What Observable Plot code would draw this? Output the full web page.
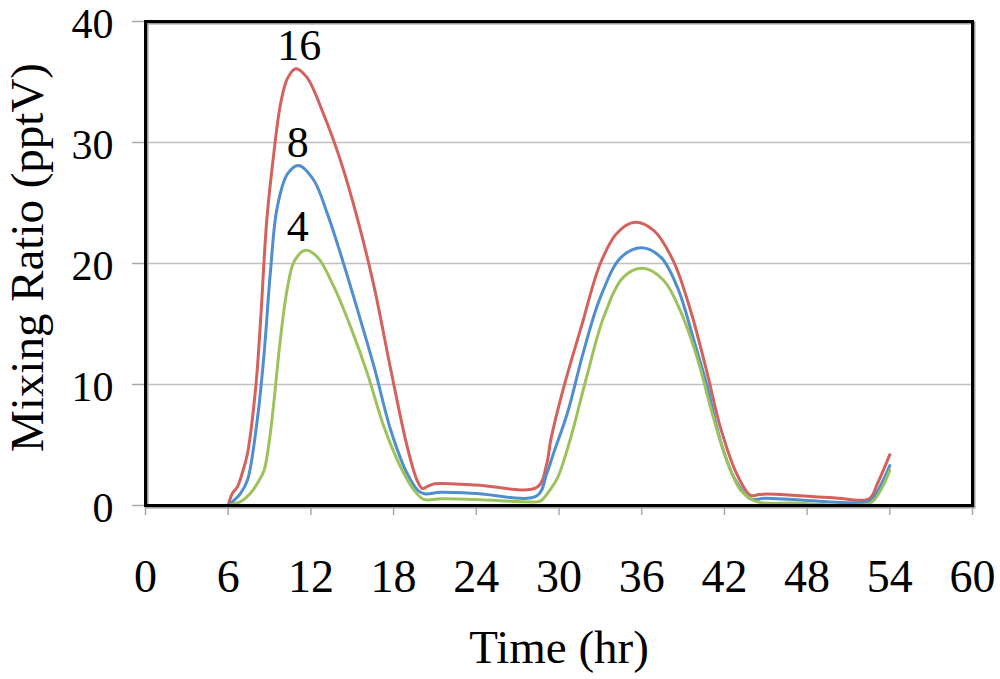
<!DOCTYPE html>
<html>
<head>
<meta charset="utf-8">
<script src="https://cdn.jsdelivr.net/npm/d3@7"></script>
<script src="https://cdn.jsdelivr.net/npm/@observablehq/plot@0.6"></script>
<style>
  html, body { margin: 0; padding: 0; background: #fff; }
  #chart svg { display: block; }
</style>
</head>
<body>
<div id="chart"></div>
<script>
// Time (hr), mixing ratio (pptV)
const series16 = [
  [6.0, 0], [6.3, 1.0], [6.65, 1.5], [7.0, 2.6], [7.4, 4.3], [8.0, 9.8], [8.35, 15.3],
  [8.8, 23.6], [9.3, 29.0], [9.8, 33.2], [10.3, 35.3], [10.9, 36.1], [11.7, 35.4],
  [12.9, 32.4], [14.15, 28.5], [15.4, 23.6], [16.6, 18.0], [17.8, 11.2], [19.0, 4.8],
  [19.7, 2.1], [20.1, 1.4], [20.5, 1.6], [21.0, 1.8], [24.0, 1.7], [28.4, 1.5],
  [29.1, 3.4], [29.4, 5.4], [30.35, 9.8], [31.6, 14.7], [33.0, 20.0], [34.2, 22.5],
  [35.5, 23.4], [36.9, 22.7], [38.3, 20.2], [39.55, 16.1], [40.76, 10.9], [41.7, 6.5],
  [42.9, 2.6], [43.9, 0.83], [44.5, 0.9], [45.1, 0.95], [47.5, 0.8], [49.9, 0.65],
  [52.5, 0.55], [53.1, 1.8], [54.0, 4.2]
];
const series8 = [
  [6.0, 0], [6.4, 0.4], [6.9, 1.0], [7.4, 2.1], [8.1, 7.0], [8.6, 12.5], [9.07, 19.4],
  [9.55, 24.6], [10.3, 27.4], [11.1, 28.1], [12.2, 26.9], [13.2, 24.1], [14.15, 20.8],
  [15.4, 16.1], [16.6, 11.4], [17.8, 6.2], [19.0, 2.6], [19.8, 1.2], [20.3, 0.95],
  [21.4, 1.1], [24.0, 1.0], [28.4, 0.8], [29.1, 2.6], [29.6, 4.3], [30.6, 7.6],
  [31.8, 12.8], [33.0, 17.2], [34.5, 20.5], [36.0, 21.3], [37.4, 20.5], [38.6, 18.0],
  [39.8, 13.6], [40.76, 9.8], [41.7, 5.4], [42.7, 2.3], [43.9, 0.55], [45.0, 0.6],
  [47.5, 0.45], [52.4, 0.3], [52.8, 0.6], [53.4, 1.8], [54.0, 3.3]
];
const series4 = [
  [6.0, 0], [6.4, 0.1], [7.0, 0.4], [7.6, 1.0], [8.1, 1.8], [8.6, 2.9], [9.0, 5.5],
  [9.3, 8.4], [9.8, 13.9], [10.3, 18.0], [10.8, 20.2], [11.6, 21.1], [12.5, 20.5],
  [13.7, 18.0], [14.9, 14.7], [16.1, 10.9], [17.3, 6.5], [18.5, 3.2], [19.5, 1.24],
  [20.2, 0.5], [21.4, 0.55], [24.0, 0.5], [28.4, 0.3], [28.7, 0.4], [29.3, 1.2],
  [29.9, 2.3], [30.8, 5.4], [32.0, 10.6], [33.25, 15.6], [34.7, 18.9], [36.1, 19.6],
  [37.6, 18.6], [38.8, 16.1], [40.0, 12.3], [41.0, 8.1], [42.0, 4.3], [43.2, 1.24],
  [44.4, 0.3], [47.0, 0.2], [52.4, 0.1], [52.9, 0.5], [53.5, 1.6], [54.0, 2.9]
];
const seriesNames = ["16", "8", "4"];
const seriesColors = ["#d4615c", "#4f8ecf", "#9cc35b"];
const curveLabels = [
  {name: "16", t: 11.15, v: 38.0},
  {name: "8", t: 11.05, v: 30.0},
  {name: "4", t: 11.05, v: 23.0}
];
const xTicks = [0, 6, 12, 18, 24, 30, 36, 42, 48, 54, 60];
const yTicks = [0, 10, 20, 30, 40];
const gridValues = [10, 20, 30];
const xTitle = "Time (hr)";
const yTitle = "Mixing Ratio (pptV)";

const rows = [series16, series8, series4].flatMap((s, i) =>
  s.map(([t, v]) => ({t, v, series: seriesNames[i]}))
);

const font = "'Liberation Serif', 'Times New Roman', serif";

const chart = Plot.plot({
  width: 1000,
  height: 679,
  marginLeft: 145,
  marginRight: 28,
  marginTop: 21,
  marginBottom: 174,
  style: {fontFamily: font, background: "#fff", color: "#000"},
  x: {domain: [0, 60]},
  y: {domain: [0, 40]},
  color: {domain: seriesNames, range: seriesColors},
  marks: [
    Plot.ruleY(gridValues, {stroke: "#c0c0c0", strokeWidth: 1.5}),
    Plot.axisX({ticks: xTicks, tickSize: 10, tickPadding: 44, stroke: "#a8a8a8", strokeWidth: 1.5,
      fontSize: 46, label: null, tickFormat: d => String(d)}),
    Plot.ruleY(yTicks, {x1: -0.95, x2: 0, stroke: "#a8a8a8", strokeWidth: 1.5, clip: false}),
    Plot.axisY({ticks: yTicks, tickSize: 0, tickPadding: 32,
      fontSize: 42, dy: 3, label: null, tickFormat: d => String(d)}),
    Plot.line(rows, {x: "t", y: "v", z: "series", stroke: "series", strokeWidth: 3,
      curve: "catmull-rom"}),
    Plot.text(curveLabels, {x: "t", y: "v", text: "name", fontSize: 44, fill: "#000",
      lineAnchor: "middle"}),
    Plot.frame({stroke: "#9a9a9a", strokeWidth: 3, dx: 1.5, dy: 1.5}),
    Plot.frame({stroke: "#000", strokeWidth: 3}),
    Plot.text([xTitle], {frameAnchor: "bottom", dy: 142, fontSize: 47, fill: "#000",
      textAnchor: "middle", lineAnchor: "middle"}),
    Plot.text([yTitle], {frameAnchor: "left", dx: -118, dy: -6, rotate: -90, fontSize: 47,
      fill: "#000", textAnchor: "middle", lineAnchor: "middle"})
  ]
});

document.getElementById("chart").appendChild(chart);
</script>
</body>
</html>
